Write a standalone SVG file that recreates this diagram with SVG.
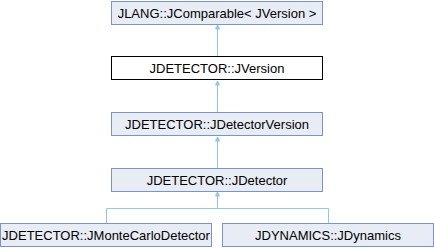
<svg xmlns="http://www.w3.org/2000/svg" width="434" height="248" viewBox="0 0 434 248">
<style>
.n{fill:#e8ecf5;stroke:#7b93cb;stroke-width:1}
.m{fill:#ffffff;stroke:#000000;stroke-width:1}
.t{font-family:"Liberation Sans",Arial,sans-serif;font-size:13px;fill:#000;text-anchor:middle}
.e{fill:none;stroke:#93c5e6;stroke-width:1}
.a{fill:#93c5e6;stroke:#93c5e6;stroke-width:1}
</style>
<g id="connectors">
<line class="e" x1="217.5" y1="29" x2="217.5" y2="56"/>
<polygon class="a" points="217.5,25 215.5,29 219.5,29"/>
<line class="e" x1="217.5" y1="85" x2="217.5" y2="112"/>
<polygon class="a" points="217.5,81 215.5,85 219.5,85"/>
<line class="e" x1="217.5" y1="141" x2="217.5" y2="168"/>
<polygon class="a" points="217.5,137 215.5,141 219.5,141"/>
<polyline class="e" points="106.5,223 106.5,208.5 328.5,208.5 328.5,223"/>
<line class="e" x1="217.5" y1="196" x2="217.5" y2="208.5"/>
<polygon class="a" points="217.5,192 215.5,196 219.5,196"/>
</g>
<g id="node-jcomparable">
<rect class="n" x="111.5" y="1.5" width="211" height="23"/>
<text class="t" x="217" y="17.5">JLANG::JComparable&lt; JVersion &gt;</text>
</g>
<g id="node-jversion">
<rect class="m" x="111.5" y="56.5" width="211" height="23"/>
<text class="t" x="217" y="72.5">JDETECTOR::JVersion</text>
</g>
<g id="node-jdetectorversion">
<rect class="n" x="111.5" y="112.5" width="211" height="23"/>
<text class="t" x="217" y="128.5">JDETECTOR::JDetectorVersion</text>
</g>
<g id="node-jdetector">
<rect class="n" x="111.5" y="168.5" width="211" height="23"/>
<text class="t" x="217" y="184.5">JDETECTOR::JDetector</text>
</g>
<g id="node-jmontecarlodetector">
<rect class="n" x="0.5" y="223.5" width="211" height="23"/>
<text class="t" x="106" y="239.5">JDETECTOR::JMonteCarloDetector</text>
</g>
<g id="node-jdynamics">
<rect class="n" x="222.5" y="223.5" width="211" height="23"/>
<text class="t" x="328" y="239.5">JDYNAMICS::JDynamics</text>
</g>
</svg>
